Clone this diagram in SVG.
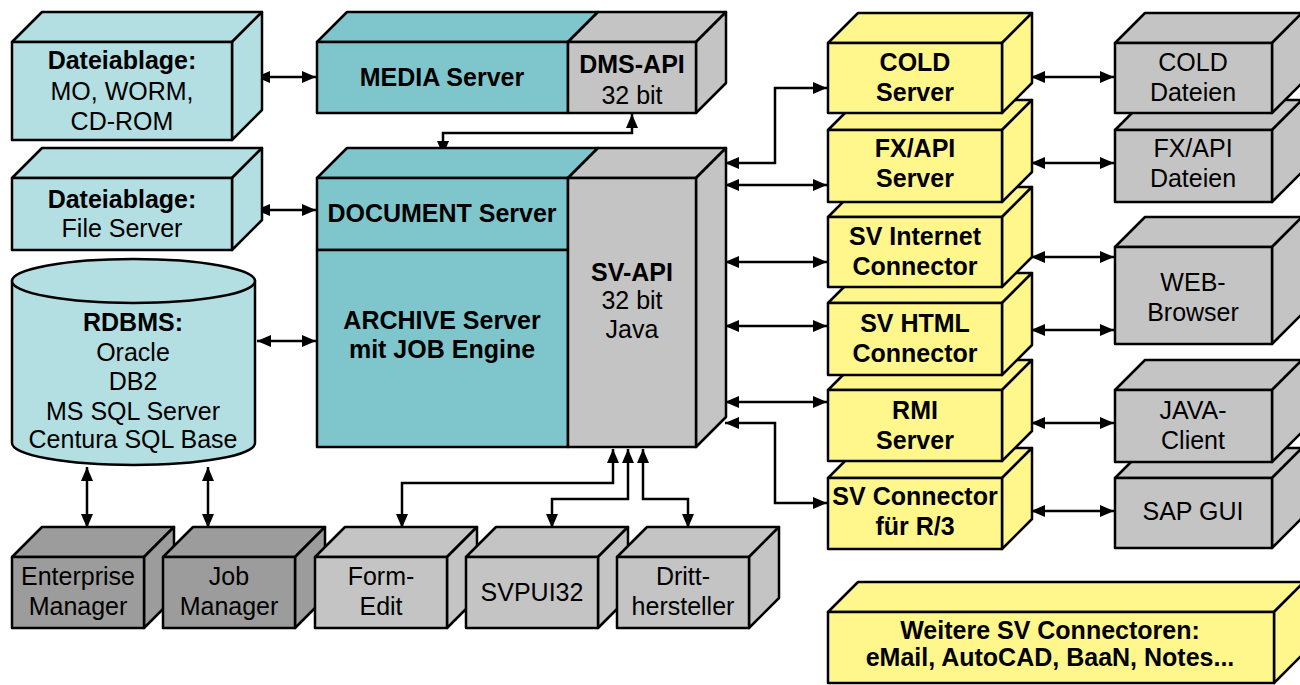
<svg xmlns="http://www.w3.org/2000/svg" width="1300" height="685" viewBox="0 0 1300 685">
<style>
.s{stroke:#000;stroke-width:2.5;stroke-linejoin:round}
.lt{fill:#b3dee2}.tl{fill:#7fc6cc}.gr{fill:#c4c4c4}.dg{fill:#9c9c9c}.yl{fill:#fff78c}
text{font-family:"Liberation Sans",Arial,sans-serif;font-size:25px;text-anchor:middle;fill:#000}
.b{font-weight:bold}
.c{fill:none;stroke:#000;stroke-width:2.5;marker-start:url(#ah);marker-end:url(#ah)}
</style>
<defs>
<marker id="ah" viewBox="0 0 14 12" refX="14" refY="6" markerWidth="14" markerHeight="12" markerUnits="userSpaceOnUse" orient="auto-start-reverse"><path d="M0,0 L14,6 L0,12 Z" fill="#000"/></marker>
</defs>
<rect width="1300" height="685" fill="#fff"/>

<g id="connectors">
<path class="c" d="M256,77 H316"/>
<path class="c" d="M256,210 H316"/>
<path class="c" d="M257,341 H316"/>
<path class="c" d="M632,114 V133 H443 V155"/>
<path class="c" d="M87,467 V528"/>
<path class="c" d="M208,467 V528"/>
<path class="c" d="M613,449 V483 H402 V528"/>
<path class="c" d="M628,449 V499 H552 V528"/>
<path class="c" d="M643,449 V499 H688 V528"/>
<path class="c" d="M725,163 H775 V88 H827"/>
<path class="c" d="M725,185 H827"/>
<path class="c" d="M725,262 H827"/>
<path class="c" d="M725,326 H827"/>
<path class="c" d="M725,402 H827"/>
<path class="c" d="M725,423 H775 V503 H827"/>
<path class="c" d="M1031,77 H1114"/>
<path class="c" d="M1031,163 H1114"/>
<path class="c" d="M1031,257 H1114"/>
<path class="c" d="M1031,330 H1114"/>
<path class="c" d="M1031,423 H1114"/>
<path class="c" d="M1031,511 H1114"/>
</g>

<g id="dateiablage-mo">
<path class="s lt" d="M12,42 L42,12 H262 L232,42Z"/>
<path class="s lt" d="M232,42 L262,12 V110 L232,140Z"/>
<rect class="s lt" x="12" y="42" width="220" height="98"/>
<text x="122" y="69" class="b">Dateiablage:</text>
<text x="122" y="100">MO, WORM,</text>
<text x="122" y="130">CD-ROM</text>
</g>

<g id="dateiablage-fs">
<path class="s lt" d="M12,178 L42,148 H262 L232,178Z"/>
<path class="s lt" d="M232,178 L262,148 V220 L232,250Z"/>
<rect class="s lt" x="12" y="178" width="220" height="72"/>
<text x="122" y="208" class="b">Dateiablage:</text>
<text x="122" y="237">File Server</text>
</g>

<g id="media-server">
<path class="s tl" d="M317,42 L347,12 H598 L568,42Z"/>
<path class="s gr" d="M568,42 L598,12 H726 L696,42Z"/>
<path class="s gr" d="M696,42 L726,12 V83 L696,113Z"/>
<rect class="s tl" x="317" y="42" width="251" height="71"/>
<rect class="s gr" x="568" y="42" width="128" height="71"/>
<text x="442" y="86" class="b">MEDIA Server</text>
<text x="632" y="73" class="b">DMS-API</text>
<text x="632" y="104">32 bit</text>
</g>

<g id="document-server">
<path class="s tl" d="M317,178 L347,148 H598 L568,178Z"/>
<path class="s gr" d="M568,178 L598,148 H726 L696,178Z"/>
<path class="s gr" d="M696,178 L726,148 V417 L696,447Z"/>
<rect class="s tl" x="317" y="178" width="251" height="72"/>
<rect class="s tl" x="317" y="250" width="251" height="197"/>
<rect class="s gr" x="568" y="178" width="128" height="269"/>
<text x="442" y="222" class="b">DOCUMENT Server</text>
<text x="442" y="329" class="b">ARCHIVE Server</text>
<text x="442" y="358" class="b">mit JOB Engine</text>
<text x="632" y="281" class="b">SV-API</text>
<text x="632" y="309">32 bit</text>
<text x="632" y="338">Java</text>
</g>

<g id="rdbms">
<path class="s lt" d="M12,281 V443 A121.5,22 0 0 0 255,443 V281Z"/>
<ellipse class="s lt" cx="133.5" cy="281" rx="121.5" ry="22"/>
<text x="133" y="331" class="b">RDBMS:</text>
<text x="133" y="361">Oracle</text>
<text x="133" y="390">DB2</text>
<text x="133" y="420">MS SQL Server</text>
<text x="133" y="448">Centura SQL Base</text>
</g>

<g id="enterprise-manager">
<path class="s dg" d="M12,557 L42,527 H174 L144,557Z"/>
<path class="s dg" d="M144,557 L174,527 V598 L144,628Z"/>
<rect class="s dg" x="12" y="557" width="132" height="71"/>
<text x="78" y="585">Enterprise</text>
<text x="78" y="615">Manager</text>
</g>

<g id="job-manager">
<path class="s dg" d="M163,557 L193,527 H325 L295,557Z"/>
<path class="s dg" d="M295,557 L325,527 V598 L295,628Z"/>
<rect class="s dg" x="163" y="557" width="132" height="71"/>
<text x="229" y="585">Job</text>
<text x="229" y="615">Manager</text>
</g>

<g id="form-edit">
<path class="s gr" d="M315,557 L345,527 H477 L447,557Z"/>
<path class="s gr" d="M447,557 L477,527 V598 L447,628Z"/>
<rect class="s gr" x="315" y="557" width="132" height="71"/>
<text x="381" y="585">Form-</text>
<text x="381" y="615">Edit</text>
</g>

<g id="svpui32">
<path class="s gr" d="M466,557 L496,527 H628 L598,557Z"/>
<path class="s gr" d="M598,557 L628,527 V598 L598,628Z"/>
<rect class="s gr" x="466" y="557" width="132" height="71"/>
<text x="532" y="601">SVPUI32</text>
</g>

<g id="drittsteller">
<path class="s gr" d="M617,557 L647,527 H779 L749,557Z"/>
<path class="s gr" d="M749,557 L779,527 V598 L749,628Z"/>
<rect class="s gr" x="617" y="557" width="132" height="71"/>
<text x="683" y="585">Dritt-</text>
<text x="683" y="615">hersteller</text>
</g>

<g id="sv-connector-r3">
<path class="s yl" d="M828,478 L858,448 H1032 L1002,478Z"/>
<path class="s yl" d="M1002,478 L1032,448 V519 L1002,549Z"/>
<rect class="s yl" x="828" y="478" width="174" height="71"/>
<text x="915" y="505" class="b">SV Connector</text>
<text x="915" y="535" class="b">für R/3</text>
</g>

<g id="rmi-server">
<path class="s yl" d="M828,390 L858,360 H1032 L1002,390Z"/>
<path class="s yl" d="M1002,390 L1032,360 V431 L1002,461Z"/>
<rect class="s yl" x="828" y="390" width="174" height="71"/>
<text x="915" y="419" class="b">RMI</text>
<text x="915" y="449" class="b">Server</text>
</g>

<g id="sv-html-connector">
<path class="s yl" d="M828,303 L858,273 H1032 L1002,303Z"/>
<path class="s yl" d="M1002,303 L1032,273 V345 L1002,375Z"/>
<rect class="s yl" x="828" y="303" width="174" height="72"/>
<text x="915" y="332" class="b">SV HTML</text>
<text x="915" y="362" class="b">Connector</text>
</g>

<g id="sv-internet-connector">
<path class="s yl" d="M828,217 L858,187 H1032 L1002,217Z"/>
<path class="s yl" d="M1002,217 L1032,187 V257 L1002,287Z"/>
<rect class="s yl" x="828" y="217" width="174" height="70"/>
<text x="915" y="245" class="b">SV Internet</text>
<text x="915" y="275" class="b">Connector</text>
</g>

<g id="fx-api-server">
<path class="s yl" d="M828,130 L858,100 H1032 L1002,130Z"/>
<path class="s yl" d="M1002,130 L1032,100 V172 L1002,202Z"/>
<rect class="s yl" x="828" y="130" width="174" height="72"/>
<text x="915" y="157" class="b">FX/API</text>
<text x="915" y="187" class="b">Server</text>
</g>

<g id="cold-server">
<path class="s yl" d="M828,43 L858,13 H1032 L1002,43Z"/>
<path class="s yl" d="M1002,43 L1032,13 V83 L1002,113Z"/>
<rect class="s yl" x="828" y="43" width="174" height="70"/>
<text x="915" y="71" class="b">COLD</text>
<text x="915" y="101" class="b">Server</text>
</g>

<g id="fx-api-dateien">
<path class="s gr" d="M1115,130 L1145,100 H1302 L1272,130Z"/>
<path class="s gr" d="M1272,130 L1302,100 V172 L1272,202Z"/>
<rect class="s gr" x="1115" y="130" width="157" height="72"/>
<text x="1193" y="157">FX/API</text>
<text x="1193" y="187">Dateien</text>
</g>

<g id="cold-dateien">
<path class="s gr" d="M1115,43 L1145,13 H1302 L1272,43Z"/>
<path class="s gr" d="M1272,43 L1302,13 V83 L1272,113Z"/>
<rect class="s gr" x="1115" y="43" width="157" height="70"/>
<text x="1193" y="71">COLD</text>
<text x="1193" y="101">Dateien</text>
</g>

<g id="web-browser">
<path class="s gr" d="M1115,247 L1145,217 H1302 L1272,247Z"/>
<path class="s gr" d="M1272,247 L1302,217 V314 L1272,344Z"/>
<rect class="s gr" x="1115" y="247" width="157" height="97"/>
<text x="1193" y="291">WEB-</text>
<text x="1193" y="321">Browser</text>
</g>

<g id="sap-gui">
<path class="s gr" d="M1115,478 L1145,448 H1302 L1272,478Z"/>
<path class="s gr" d="M1272,478 L1302,448 V518 L1272,548Z"/>
<rect class="s gr" x="1115" y="478" width="157" height="70"/>
<text x="1193" y="520">SAP GUI</text>
</g>

<g id="java-client">
<path class="s gr" d="M1115,390 L1145,360 H1302 L1272,390Z"/>
<path class="s gr" d="M1272,390 L1302,360 V432 L1272,462Z"/>
<rect class="s gr" x="1115" y="390" width="157" height="72"/>
<text x="1193" y="419">JAVA-</text>
<text x="1193" y="449">Client</text>
</g>

<g id="weitere-connectoren">
<path class="s yl" d="M828,612 L858,582 H1304 L1274,612Z"/>
<path class="s yl" d="M1274,612 L1304,582 V653 L1274,683Z"/>
<rect class="s yl" x="828" y="612" width="446" height="71"/>
<text x="1050" y="639" class="b">Weitere SV Connectoren:</text>
<text x="1050" y="666" class="b">eMail, AutoCAD, BaaN, Notes...</text>
</g>
</svg>
